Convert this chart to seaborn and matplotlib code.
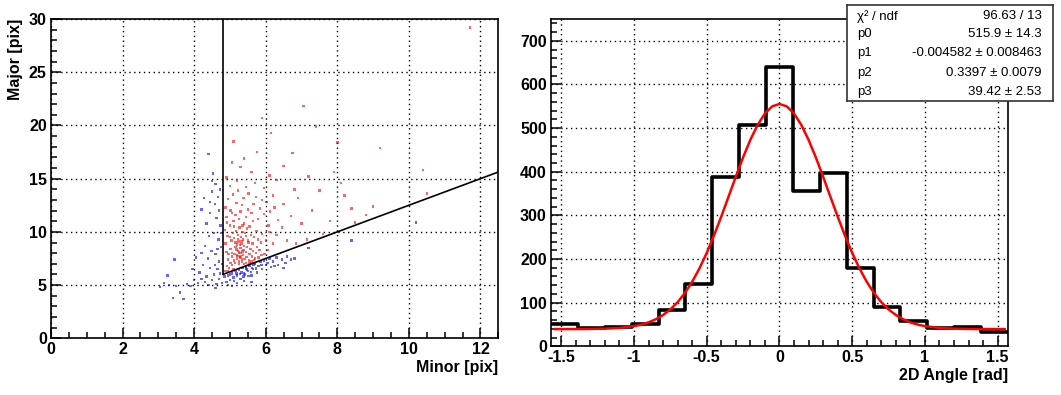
# -*- coding: utf-8 -*-
"""
Cluster shape cut (Minor vs Major axis) and 2D angle distribution with gaussian fit.
"""

import numpy as np
import pandas as pd
import seaborn as sns
from matplotlib import pyplot as plt
from matplotlib.ticker import MultipleLocator, FuncFormatter

# --- left panel: cluster axes -------------------------------------------
red_points = [
    (4.87, 6.35), (4.92, 6.8), (4.95, 7.4), (4.9, 8.1), (4.88, 8.9), (4.93, 9.6),
    (4.86, 10.2), (4.98, 6.6), (5.02, 7.1), (5.05, 7.7), (5.01, 8.4), (5.04, 9.2),
    (5.08, 9.9), (5.0, 10.6), (5.06, 6.9), (5.11, 7.3), (5.13, 7.9), (5.15, 8.6),
    (5.12, 9.4), (5.17, 10.1), (5.1, 11.0), (5.19, 7.5), (5.21, 7.75), (5.23, 8.2),
    (5.2, 8.8), (5.24, 9.1), (5.22, 9.7), (5.27, 10.4), (5.25, 7.2), (5.28, 7.6),
    (5.3, 8.0), (5.29, 8.5), (5.32, 8.9), (5.31, 9.5), (5.35, 10.0), (5.33, 7.4),
    (5.36, 7.8), (5.38, 8.3), (5.4, 8.7), (5.37, 9.3), (5.42, 9.9), (5.44, 7.1),
    (5.46, 7.65), (5.45, 8.1), (5.48, 8.6), (5.5, 9.2), (5.47, 10.3), (5.53, 7.3),
    (5.55, 7.9), (5.57, 8.4), (5.52, 9.0), (5.58, 9.7), (5.6, 7.2), (5.62, 7.7),
    (5.65, 8.2), (5.63, 8.9), (5.67, 9.5), (5.7, 7.5), (5.72, 8.0), (5.75, 8.6),
    (5.78, 9.3), (5.74, 10.1), (5.8, 7.6), (5.83, 8.3), (5.86, 9.0), (5.88, 7.8),
    (5.9, 9.8), (5.14, 7.05), (5.26, 7.0), (5.18, 8.35), (5.34, 7.15), (5.41, 7.45),
    (5.06, 8.0), (4.96, 7.9), (5.2, 7.85), (5.3, 7.7), (5.25, 8.05), (5.35, 8.15),
    (5.28, 8.75), (5.22, 9.35), (5.32, 9.15), (5.15, 9.0), (5.45, 9.6), (5.1, 6.5),
    (4.95, 6.3), (5.39, 7.0), (5.55, 7.05), (5.68, 7.35), (5.0, 9.5), (5.12, 10.5),
    (5.26, 11.2), (5.4, 10.8), (5.55, 10.5), (5.64, 11.0), (4.9, 11.4), (5.05, 11.8),
    (4.88, 12.3), (4.95, 13.1), (5.02, 12.0), (5.08, 13.5), (5.15, 11.6), (5.18, 12.7),
    (5.23, 13.9), (5.3, 11.9), (5.33, 12.5), (5.38, 13.2), (5.44, 11.4), (5.5, 12.1),
    (5.52, 13.6), (5.6, 11.8), (5.66, 12.6), (5.72, 13.3), (5.78, 11.2), (5.84, 12.2),
    (5.9, 13.0), (5.95, 11.7), (6.02, 12.8), (6.08, 10.6), (6.12, 11.9), (6.2, 13.4),
    (5.0, 14.3), (5.2, 14.8), (5.45, 14.2), (5.7, 14.6), (5.95, 14.1), (6.25, 12.3),
    (6.35, 11.1), (6.1, 10.0), (6.0, 9.2), (6.2, 8.9), (6.3, 9.7), (6.45, 10.4),
    (6.05, 8.3), (5.97, 7.9), (4.92, 10.9), (5.35, 10.6),
    (6.5, 12.6), (6.7, 11.5), (6.9, 13.2), (6.6, 9.2), (7.0, 10.8), (7.3, 12.0),
    (7.5, 13.9), (7.8, 11.0), (8.1, 14.6), (8.4, 12.2), (8.8, 11.6), (9.2, 17.9),
    (7.4, 19.9), (7.05, 21.8), (5.9, 20.7), (5.75, 17.5), (5.4, 16.9), (5.1, 18.5),
    (5.6, 15.6), (6.1, 15.3), (6.5, 16.2), (7.2, 15.2), (7.9, 15.6), (8.0, 18.4),
    (6.3, 14.9), (6.8, 14.0), (7.6, 9.8), (7.15, 9.3), (6.85, 8.9), (8.5, 10.9),
    (10.4, 15.8), (11.7, 29.2), (6.15, 19.3), (5.3, 16.1), (4.9, 15.1), (5.05, 16.5),
    (6.75, 17.4), (8.2, 13.4), (9.0, 12.4), (10.5, 13.6),
]
blue_points = [
    (4.72, 6.1), (4.65, 6.5), (4.7, 7.2), (4.6, 7.9), (4.75, 8.6), (4.68, 9.3),
    (4.55, 9.9), (4.74, 10.6), (4.62, 11.3), (4.7, 12.0), (4.58, 12.6), (4.66, 13.3),
    (4.5, 13.8), (4.6, 14.5), (4.52, 15.5), (4.4, 17.3), (4.45, 11.8), (4.35, 10.8),
    (4.42, 9.6), (4.3, 8.7), (4.48, 8.2), (4.38, 7.5), (4.25, 6.9), (4.45, 6.6),
    (4.55, 6.0), (4.35, 5.8), (4.2, 5.6), (4.1, 5.2), (4.3, 5.3), (4.5, 5.5),
    (4.62, 5.1), (4.7, 5.6), (4.0, 5.5), (3.9, 4.9), (3.8, 5.1), (3.6, 4.3),
    (3.7, 3.7), (3.4, 3.8), (3.5, 4.9), (3.3, 5.0), (3.15, 5.2), (3.45, 7.4),
    (3.25, 5.9), (4.15, 6.2), (4.05, 7.6), (4.2, 8.0), (4.28, 13.2), (4.5, 14.8),
    (4.44, 12.8), (4.72, 14.0), (4.2, 12.1), (4.76, 9.9), (4.65, 8.4), (4.78, 7.0),
    (4.58, 6.9), (3.95, 6.5), (3.05, 4.8), (4.4, 5.0), (4.6, 4.7), (4.78, 5.2),
    (4.85, 5.8), (4.9, 5.3), (4.95, 5.9), (5.0, 5.5), (5.05, 6.1), (5.1, 5.7),
    (5.15, 6.3), (5.2, 5.9), (5.25, 6.4), (5.3, 5.6), (5.35, 6.6), (5.4, 6.1),
    (5.45, 6.7), (5.5, 6.3), (5.55, 6.8), (5.6, 5.9), (5.65, 6.5), (5.7, 7.0),
    (5.75, 6.2), (5.8, 6.8), (5.85, 7.2), (5.9, 6.5), (5.95, 7.3), (6.0, 6.9),
    (6.1, 7.5), (6.15, 6.7), (6.2, 7.2), (6.3, 7.6), (6.35, 6.9), (6.45, 7.4),
    (6.55, 7.1), (6.6, 7.7), (6.7, 7.4), (6.8, 7.5), (5.2, 5.2), (5.4, 5.4),
    (5.6, 5.3), (5.05, 4.9), (4.95, 5.0), (5.32, 6.2), (5.48, 6.45), (5.62, 6.6),
    (5.42, 6.0), (5.28, 6.05), (5.52, 5.85), (5.72, 6.55), (5.12, 5.4), (5.88, 6.9),
    (6.05, 7.1), (6.25, 6.8), (5.38, 5.8), (5.58, 6.25), (7.2, 8.5), (8.4, 9.2),
    (10.2, 10.9), (6.5, 6.6), (5.0, 6.0), (5.18, 6.1), (5.44, 6.55), (5.66, 6.95),
]
cut_minor = 4.8     # vertical cut
cut_slope = 1.25    # major > slope * minor

# --- right panel: 2D angle histogram and fit curve -----------------------
angle_counts = [50, 43, 45, 50, 83, 142, 389, 507, 639, 356, 398, 180, 90, 57, 43, 45, 32]
fit_x = [-1.55, -1.35, -1.2, -1.1, -1.0, -0.95, -0.9, -0.85, -0.8, -0.75, -0.7, -0.65,
         -0.6, -0.55, -0.5, -0.45, -0.4, -0.35, -0.3, -0.25, -0.2, -0.15, -0.1, -0.05,
         0.0, 0.05, 0.1, 0.15, 0.2, 0.25, 0.3, 0.35, 0.4, 0.45, 0.5, 0.55, 0.6, 0.65,
         0.7, 0.75, 0.8, 0.85, 0.9, 0.95, 1.0, 1.1, 1.2, 1.35, 1.55]
fit_y = [39.4, 39.6, 40.4, 42.1, 46.2, 49.7, 54.8, 62.0, 71.7, 84.5, 101.2, 122.1,
         147.8, 178.5, 214.0, 254.0, 297.4, 342.8, 388.7, 432.9, 473.2, 507.4, 533.4, 549.8,
         555.3, 549.8, 533.4, 507.4, 473.2, 432.9, 388.7, 342.8, 297.4, 254.0, 214.0, 178.5,
         147.8, 122.1, 101.2, 84.5, 71.7, 62.0, 54.8, 49.7, 46.2, 42.1, 40.4, 39.6, 39.4]
stat_names = ["χ² / ndf", "p0", "p1", "p2", "p3"]
stat_values = ["96.63 / 13", "515.9 ± 14.3", "-0.004582 ± 0.008463",
               "0.3397 ± 0.0079", "39.42 ± 2.53"]


def root_style(ax, xmajor, xminor, ymajor, yminor):
    ax.xaxis.set_major_locator(MultipleLocator(xmajor))
    ax.xaxis.set_minor_locator(MultipleLocator(xminor))
    ax.yaxis.set_major_locator(MultipleLocator(ymajor))
    ax.yaxis.set_minor_locator(MultipleLocator(yminor))
    ax.xaxis.set_major_formatter(FuncFormatter(lambda v, p: f"{v:g}"))
    ax.yaxis.set_major_formatter(FuncFormatter(lambda v, p: f"{v:g}"))
    ax.tick_params(which="both", direction="in", top=False, right=False,
                   bottom=True, left=True, labelsize=11.5, width=1.1, colors="black")
    ax.tick_params(which="major", length=7.5, pad=3)
    ax.tick_params(which="minor", length=4.5)
    for lab in ax.get_xticklabels() + ax.get_yticklabels():
        lab.set_fontweight("bold")
    ax.grid(True, which="major", color="black", linestyle=(0, (1, 2.5)), linewidth=1.0)
    for sp in ax.spines.values():
        sp.set_visible(True)
        sp.set_color("black")
        sp.set_linewidth(1.2)


if __name__ == "__main__":
    sns.set_theme(style="white")
    plt.rcParams["font.family"] = ["Liberation Sans", "DejaVu Sans"]
    plt.rcParams["axes.unicode_minus"] = False
    plt.rcParams["axes.labelcolor"] = "black"
    plt.rcParams["text.color"] = "black"

    fig = plt.figure(figsize=(10.61, 3.95), dpi=100)
    ax1 = fig.add_axes([0.0481, 0.1435, 0.4216, 0.8084])
    ax2 = fig.add_axes([0.5193, 0.1233, 0.4307, 0.8286])

    # left: scatter of cluster shapes
    df = pd.DataFrame(
        [(x, y, "in") for x, y in red_points] + [(x, y, "out") for x, y in blue_points],
        columns=["minor", "major", "sel"],
    )
    sns.scatterplot(data=df, x="minor", y="major", hue="sel",
                    palette={"in": "#ff0000", "out": "#0000ff"},
                    marker="s", s=3, linewidth=0, alpha=0.6, legend=False, ax=ax1)
    ax1.set_xlim(0, 12.5)
    ax1.set_ylim(0, 30)
    ax1.plot([cut_minor, cut_minor], [cut_slope * cut_minor, 30], color="black", lw=1.2)
    ax1.plot([cut_minor, 12.5], [cut_slope * cut_minor, cut_slope * 12.5], color="black", lw=1.2)
    root_style(ax1, 2, 0.5, 5, 1)
    ax1.set_xlabel("Minor [pix]", fontsize=11.5, fontweight="bold", color="black",
                   loc="right", labelpad=2)
    ax1.set_ylabel("Major [pix]", fontsize=11.5, fontweight="bold", color="black",
                   loc="top", labelpad=4)

    # right: 2D angle histogram with gaussian fit
    edges = np.linspace(-np.pi / 2, np.pi / 2, len(angle_counts) + 1)
    hist_df = pd.DataFrame({
        "angle": 0.5 * (edges[:-1] + edges[1:]),
        "count": angle_counts,
    })
    sns.histplot(data=hist_df, x="angle", weights="count", bins=edges.tolist(),
                 element="step", fill=False, color="black", linewidth=2.6, ax=ax2)
    sns.lineplot(x=fit_x, y=fit_y, color="#ff0000", linewidth=1.8, ax=ax2)
    ax2.set_xlim(-np.pi / 2, np.pi / 2)
    ax2.set_ylim(0, 750)
    root_style(ax2, 0.5, 0.1, 100, 20)
    ax2.set_xlabel("2D Angle [rad]", fontsize=11.5, fontweight="bold", color="black",
                   loc="right", labelpad=2)
    ax2.set_ylabel("")

    # fit statistics box
    axb = fig.add_axes([0.7983, 0.745, 0.1942, 0.243])
    axb.set_xticks([])
    axb.set_yticks([])
    axb.set_facecolor("white")
    for sp in axb.spines.values():
        sp.set_visible(True)
        sp.set_color("#333333")
        sp.set_linewidth(1.2)
    row_y = [0.88, 0.69, 0.495, 0.29, 0.09]
    for name, val, yy in zip(stat_names, stat_values, row_y):
        axb.text(0.047, yy, name, transform=axb.transAxes, fontsize=9.5, va="center",
                 ha="left", color="black")
        axb.text(0.945, yy, val, transform=axb.transAxes, fontsize=9.5, va="center",
                 ha="right", color="black")

    fig.savefig("out.png", dpi=100)
